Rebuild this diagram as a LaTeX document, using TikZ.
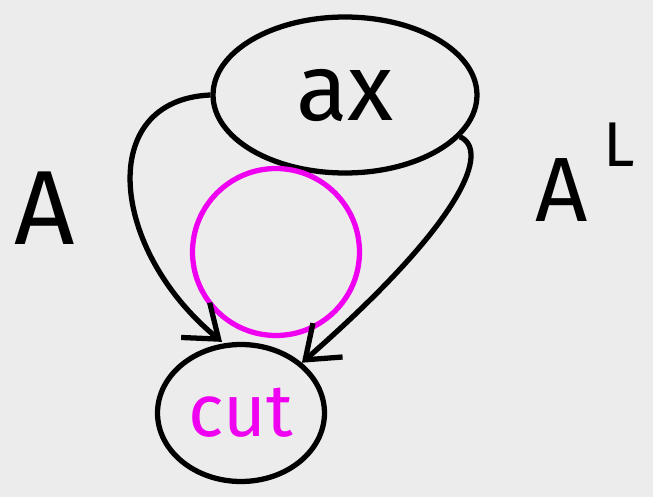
\documentclass[tikz,border=0pt]{standalone}
\usepackage{fontspec}
\setsansfont{Fira Sans}
\usetikzlibrary{shapes.geometric,arrows.meta}
\definecolor{paper}{HTML}{ECECEC}
\definecolor{pen}{HTML}{F000F0}
\begin{document}
\begin{tikzpicture}[x=0.02cm,y=-0.02cm,line width=3pt,>={Straight Barb[length=6mm,width=9mm]},font=\sffamily]
    \tikzstyle{link}=[ellipse, draw, inner sep=0pt]
    \tikzstyle{tag}=[inner sep=0pt]
    \fill[paper] (0,0) rectangle (653,497);
    \node[link, minimum width=5.28cm, minimum height=3.12cm, font=\sffamily\fontsize{54}{60}\selectfont] (ax) at (345,95) {ax};
    \node[link, minimum width=3.34cm, minimum height=2.74cm, text=pen, font=\sffamily\fontsize{42}{48}\selectfont] (cut) at (241,413) {cut};
    \node[circle, draw=pen, minimum size=3.34cm] (blob) at (276,252) {};
    \node[tag, font=\sffamily\fontsize{60}{66}\selectfont] (A) at (45,208) {A};
    \node[tag, font=\sffamily\fontsize{52}{58}\selectfont] (AL) at (585,172) {A\,\raisebox{.6em}{\fontsize{36}{40}\selectfont L}};
    \draw[->] (ax.west) .. controls (95,100) and (110,250) .. ([xshift=-0.38cm]cut.north);
    \draw[->] (ax.-20) .. controls (490,150) and (465,220) .. (cut.north east);
  \end{tikzpicture}
\end{document}
